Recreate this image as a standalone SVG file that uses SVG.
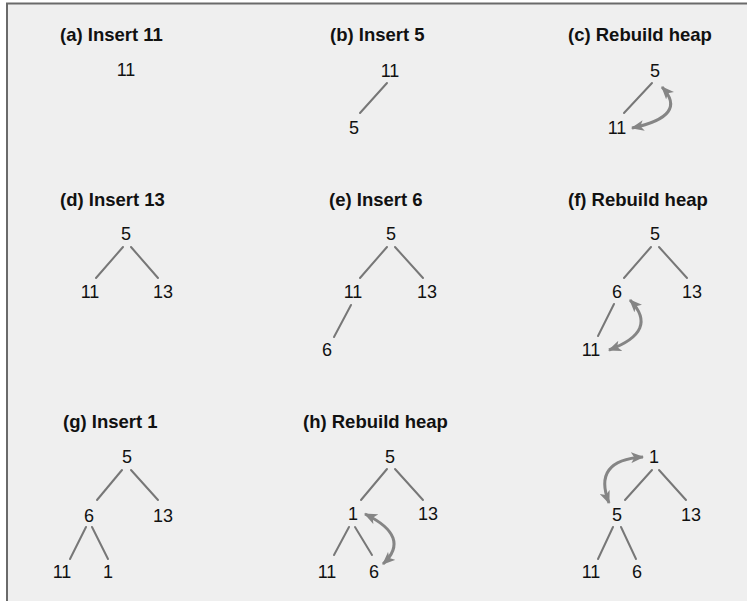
<svg xmlns="http://www.w3.org/2000/svg" width="747" height="601" viewBox="0 0 747 601">
<defs>
<style>
.title{font-family:"Liberation Sans",Arial,sans-serif;font-weight:bold;font-size:18.5px;fill:#111}
.num{font-family:"Liberation Sans",Arial,sans-serif;font-size:18px;fill:#111;text-anchor:middle}
.edge{stroke:#777;stroke-width:2;fill:none;stroke-linecap:round}
.swap{stroke:#858585;stroke-width:3;fill:none;marker-start:url(#ah);marker-end:url(#ah)}
</style>
<marker id="ah" viewBox="0 0 12 10" markerUnits="userSpaceOnUse" markerWidth="13" markerHeight="11" refX="11" refY="5" orient="auto-start-reverse">
<path d="M0,0 L12,5 L0,10 L3,5 Z" fill="#858585"/>
</marker>
</defs>
<rect x="0" y="0" width="747" height="601" fill="#ffffff"/>
<rect x="7" y="3" width="740" height="598" fill="#efefef"/>
<line x1="6" y1="3.5" x2="747" y2="3.5" stroke="#6a6a6a" stroke-width="2"/>
<line x1="7" y1="3" x2="7" y2="601" stroke="#6a6a6a" stroke-width="2"/>

<g id="titles">
<text class="title" x="60" y="41">(a) Insert 11</text>
<text class="title" x="330" y="41">(b) Insert 5</text>
<text class="title" x="568" y="41">(c) Rebuild heap</text>
<text class="title" x="60" y="206">(d) Insert 13</text>
<text class="title" x="329" y="206">(e) Insert 6</text>
<text class="title" x="568" y="206">(f) Rebuild heap</text>
<text class="title" x="63" y="428">(g) Insert 1</text>
<text class="title" x="303" y="428">(h) Rebuild heap</text>
</g>

<g id="connectors">
<line class="edge" x1="387" y1="83" x2="360" y2="113"/>
<line class="edge" x1="652" y1="83" x2="624" y2="113"/>
<path class="swap" d="M632,128 Q689,116 662,87"/>
<line class="edge" x1="123" y1="247" x2="96" y2="278"/>
<line class="edge" x1="131" y1="247" x2="158" y2="278"/>
<line class="edge" x1="387" y1="247" x2="360" y2="278"/>
<line class="edge" x1="395" y1="247" x2="423" y2="278"/>
<line class="edge" x1="351" y1="305" x2="334" y2="337"/>
<line class="edge" x1="651" y1="247" x2="624" y2="278"/>
<line class="edge" x1="659" y1="247" x2="687" y2="278"/>
<line class="edge" x1="614" y1="304" x2="598" y2="336"/>
<path class="swap" d="M609,350 Q660,331 630,300"/>
<line class="edge" x1="122" y1="470" x2="97" y2="500"/>
<line class="edge" x1="131" y1="470" x2="158" y2="500"/>
<line class="edge" x1="86" y1="527" x2="70" y2="559"/>
<line class="edge" x1="92" y1="527" x2="108" y2="559"/>
<line class="edge" x1="387" y1="469" x2="361" y2="500"/>
<line class="edge" x1="395" y1="469" x2="423" y2="500"/>
<line class="edge" x1="349" y1="527" x2="334" y2="555"/>
<line class="edge" x1="355" y1="527" x2="372" y2="555"/>
<path class="swap" d="M365,514 Q412,537 383,564"/>
<line class="edge" x1="652" y1="470" x2="625" y2="500"/>
<line class="edge" x1="659" y1="470" x2="686" y2="500"/>
<line class="edge" x1="613" y1="527" x2="598" y2="559"/>
<line class="edge" x1="621" y1="527" x2="636" y2="559"/>
<path class="swap" d="M643,457 Q592,460 609,503"/>
</g>

<g id="tree-a"><text class="num" x="126" y="76">11</text></g>
<g id="tree-b">
<text class="num" x="390" y="77">11</text>
<text class="num" x="354" y="134">5</text>
</g>
<g id="tree-c">
<text class="num" x="655" y="77">5</text>
<text class="num" x="617" y="134">11</text>
</g>
<g id="tree-d">
<text class="num" x="126" y="240">5</text>
<text class="num" x="90" y="298">11</text>
<text class="num" x="163" y="298">13</text>
</g>
<g id="tree-e">
<text class="num" x="391" y="240">5</text>
<text class="num" x="353" y="298">11</text>
<text class="num" x="427" y="298">13</text>
<text class="num" x="327" y="356">6</text>
</g>
<g id="tree-f">
<text class="num" x="655" y="240">5</text>
<text class="num" x="617" y="298">6</text>
<text class="num" x="692" y="298">13</text>
<text class="num" x="591" y="356">11</text>
</g>
<g id="tree-g">
<text class="num" x="127" y="463">5</text>
<text class="num" x="89" y="522">6</text>
<text class="num" x="163" y="522">13</text>
<text class="num" x="62" y="578">11</text>
<text class="num" x="108" y="578">1</text>
</g>
<g id="tree-h">
<text class="num" x="390" y="463">5</text>
<text class="num" x="353" y="520">1</text>
<text class="num" x="428" y="520">13</text>
<text class="num" x="327" y="578">11</text>
<text class="num" x="374" y="578">6</text>
</g>
<g id="tree-i">
<text class="num" x="654" y="463">1</text>
<text class="num" x="617" y="521">5</text>
<text class="num" x="691" y="521">13</text>
<text class="num" x="591" y="578">11</text>
<text class="num" x="637" y="578">6</text>
</g>
</svg>
